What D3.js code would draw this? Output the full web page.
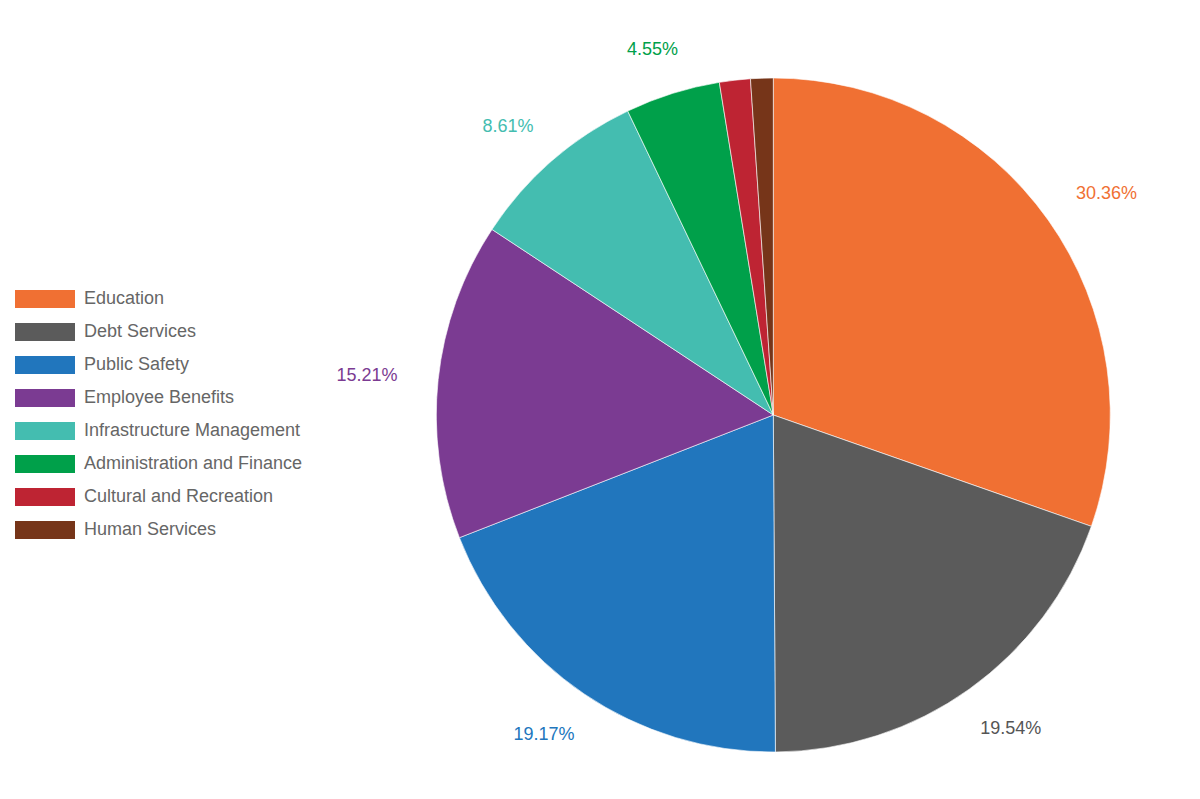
<!DOCTYPE html>
<html>
<head>
<meta charset="utf-8">
<script src="https://cdn.jsdelivr.net/npm/d3@7"></script>
<style>
  html, body { margin: 0; padding: 0; background: #fff; }
  svg { display: block; font-family: "Liberation Sans", Arial, Helvetica, sans-serif; }
</style>
</head>
<body>
<svg id="chart" width="1200" height="799"></svg>
<script>
const categories = ["Education", "Debt Services", "Public Safety", "Employee Benefits",
  "Infrastructure Management", "Administration and Finance", "Cultural and Recreation", "Human Services"];
const shares = [30.36, 19.54, 19.17, 15.21, 8.61, 4.55, 1.48, 1.08];
const shownLabels = ["30.36%", "19.54%", "19.17%", "15.21%", "8.61%", "4.55%", "", ""];
const colors = ["#f07033", "#5b5b5b", "#2176bd", "#7b3b92", "#44bdb0", "#00a04a", "#be2433", "#763519"];
const labelColors = ["#f07033", "#555555", "#2176bd", "#7b3b92", "#44bdb0", "#00a04a", "#be2433", "#763519"];

const svg = d3.select("#chart");
const cx = 773.3, cy = 415, R = 337;
const rows = categories.map((c, i) => ({ name: c, value: shares[i], label: shownLabels[i], i }));

const pie = d3.pie().sort(null).value(d => d.value);
const arc = d3.arc().innerRadius(0).outerRadius(R);
const arcs = pie(rows);

const g = svg.append("g").attr("transform", `translate(${cx},${cy})`);
g.selectAll("path").data(arcs).join("path")
  .attr("d", arc)
  .attr("fill", d => colors[d.data.i])
  .attr("stroke", "#ffffff")
  .attr("stroke-width", 0.6);

// outside labels
const rho = 378;
const fs = 18;
g.selectAll("text.lbl").data(arcs.filter(d => d.data.label)).join("text")
  .attr("class", "lbl")
  .attr("font-size", fs)
  .attr("fill", d => labelColors[d.data.i])
  .attr("text-anchor", "middle")
  .text(d => d.data.label)
  .each(function(d) {
    const a = (d.startAngle + d.endAngle) / 2;
    const w = this.getComputedTextLength();
    const s = Math.sin(a), c = Math.cos(a);
    const x = s * rho + s * w / 2;
    const y = -c * rho - c * 6.5;
    d3.select(this).attr("x", x).attr("y", y + 6.5);
  });

// legend
const lg = svg.append("g");
const items = lg.selectAll("g").data(rows).join("g")
  .attr("transform", (d, i) => `translate(15,${290 + i * 33})`);
items.append("rect")
  .attr("width", 60).attr("height", 18)
  .attr("fill", d => colors[d.i]);
items.append("text")
  .attr("x", 69).attr("y", 14)
  .attr("font-size", 18)
  .attr("fill", "#666666")
  .text(d => d.name);
</script>
</body>
</html>
